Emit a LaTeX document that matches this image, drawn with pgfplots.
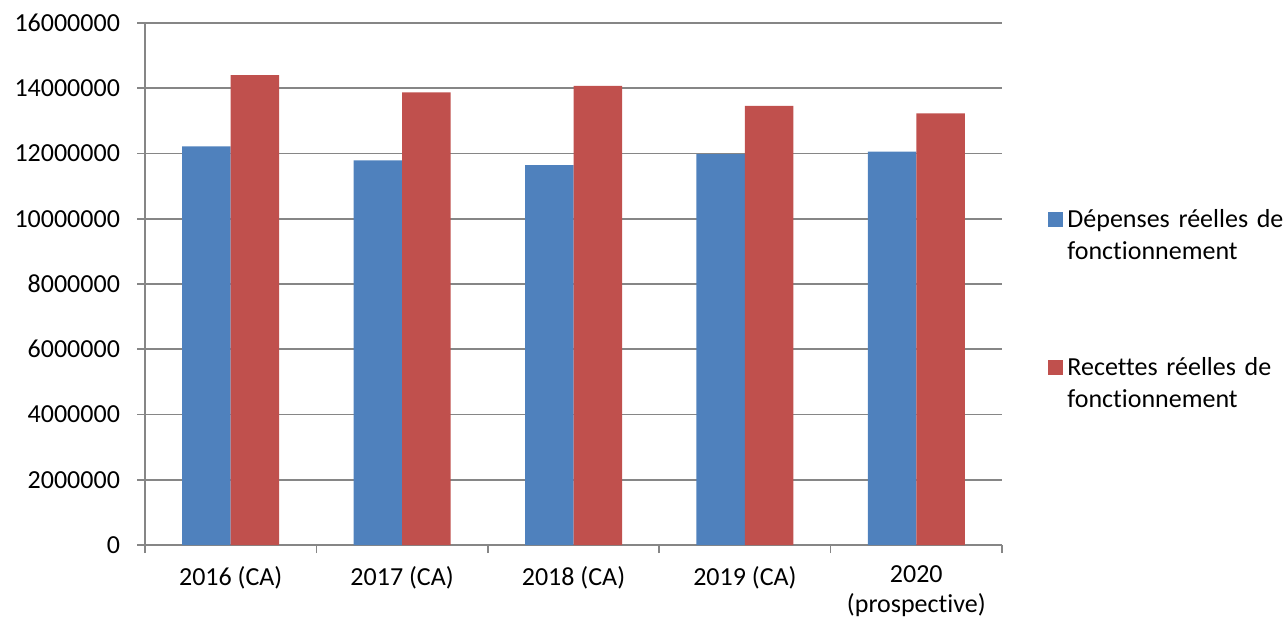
\documentclass[border=0pt]{standalone}
\usepackage{pgfplots}
\pgfplotsset{compat=1.18}
\usepackage{fontspec}
\setmainfont{Carlito}[Ligatures=CommonOff]
\definecolor{cblue}{HTML}{4F81BD}
\definecolor{cred}{HTML}{C0504D}
\definecolor{cgrid}{HTML}{868686}
\begin{document}
\begin{tikzpicture}
\path[use as bounding box] (-72.5pt,-38pt) rectangle (571.5pt,272.5pt);
\begin{axis}[
  at={(0,0)}, anchor=south west,
  scale only axis, width=428.5pt, height=261pt,
  font=\fontsize{13pt}{15pt}\selectfont,
  ybar=0pt, bar width=24.25pt,
  xmin=-0.5, xmax=4.5,
  ymin=0, ymax=16000000,
  ytick={0,2000000,...,16000000},
  scaled y ticks=false,
  /pgf/number format/fixed,
  /pgf/number format/1000 sep={},
  /pgf/number format/assume math mode=true,
  xtick={-0.5,0.5,1.5,2.5,3.5,4.5},
  xticklabels={},
  extra x ticks={0,1,2,3,4},
  extra x tick labels={2016 (CA),2017 (CA),2018 (CA),2019 (CA),{2020\\(prospective)}},
  extra x tick style={major tick length=0pt, grid=none,
    xticklabel style={align=center, yshift=-7pt}},
  tick align=outside,
  major tick length=4pt,
  tick style={draw=cgrid, line width=0.8pt},
  yticklabel style={xshift=-5pt},
  ymajorgrids, grid style={cgrid, line width=0.8pt},
  axis x line*=bottom, axis y line*=left,
  axis line style={cgrid, line width=0.8pt, -},
  legend style={at={(rel axis cs:1,0.659)}, anchor=north west, xshift=20pt,
    draw=none, fill=none,
    nodes={text width=140pt, align=left, font=\fontsize{13pt}{16pt}\selectfont}},
  legend cell align=left,
  legend image code/.code={\fill[#1] (0pt,-3.5pt) rectangle (7.5pt,4pt); \path[draw=none,fill=none] (0pt,0pt) -- (0pt,-67pt);},
]
\addplot[fill=cblue, draw=none] coordinates {(0,12220000) (1,11790000) (2,11640000) (3,11980000) (4,12060000)};
\addplot[fill=cred, draw=none] coordinates {(0,14400000) (1,13870000) (2,14070000) (3,13460000) (4,13230000)};
\addlegendentry{D\'epenses r\'eelles de\\fonctionnement}
\addlegendentry{Recettes r\'eelles de\\fonctionnement}
\end{axis}
\end{tikzpicture}
\end{document}
